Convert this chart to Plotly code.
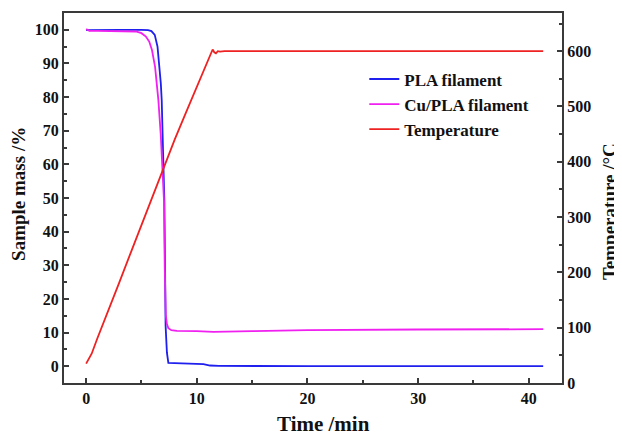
import plotly.graph_objects as go

# Temperature program
temp_time = [0, 0.5, 1, 2, 3, 4, 5, 6, 7, 7.6, 8, 9, 10, 10.3, 11, 11.43, 11.58, 11.73, 11.9, 12.1, 12.5, 15, 20, 30, 41.3]
temp_vals = [35, 53, 80, 130, 182, 234, 286, 338, 391, 421, 440, 488, 535, 548, 582, 603, 598, 596, 600, 599, 600, 600, 600, 600, 600]

# PLA filament mass
pla_time = [0, 1, 3, 5, 5.6, 5.9, 6.2, 6.45, 6.6, 6.75, 6.83, 6.91, 7.0, 7.07, 7.13, 7.18, 7.3, 7.43, 8, 9, 10, 10.6, 11.2, 12, 20, 30, 41.3]
pla_mass = [99.9, 100, 100, 100, 99.9, 99.6, 98.5, 95, 90, 84, 79, 69, 59, 49, 30, 12, 4, 1.0, 0.9, 0.8, 0.7, 0.6, 0.2, 0.1, 0.0, 0.0, 0.0]

# Cu/PLA filament mass
cu_time = [0, 0.3, 1, 3, 4.5, 5.0, 5.4, 5.7, 5.95, 6.23, 6.53, 6.74, 6.92, 7.04, 7.1, 7.2, 7.3, 7.43, 7.7, 8.2, 10, 11.5, 15, 20, 30, 41.3]
cu_mass = [100.2, 99.7, 99.7, 99.7, 99.5, 99.0, 98.0, 96.5, 94, 89, 79, 69, 59, 49, 30, 15, 12.5, 11.3, 10.7, 10.5, 10.4, 10.2, 10.4, 10.7, 10.9, 11.0]

mass_ticks = [0, 10, 20, 30, 40, 50, 60, 70, 80, 90, 100]
temp_ticks = [0, 100, 200, 300, 400, 500, 600]
time_ticks = [0, 10, 20, 30, 40]

x_title = "Time /min"
y_title = "Sample mass /%"
y2_title = "Temperature /°C"

FONT = "Liberation Serif"
AXC = "#3a3a3a"

fig = go.Figure()
fig.add_trace(go.Scatter(x=pla_time, y=pla_mass, mode="lines", name="PLA filament",
                         line=dict(color="#1f1fee", width=1.8)))
fig.add_trace(go.Scatter(x=cu_time, y=cu_mass, mode="lines", name="Cu/PLA filament",
                         line=dict(color="#f020f0", width=1.8)))
fig.add_trace(go.Scatter(x=temp_time, y=temp_vals, mode="lines", name="Temperature",
                         line=dict(color="#ee2222", width=1.8), yaxis="y2"))

tickfont = dict(family=FONT, size=16, color="#111", weight="bold")

def tfont(size):
    return dict(family=FONT, size=size, color="#111", weight="bold")

# the page places the figure 8px from its top-left corner
fig.update_layout(
    width=614, height=427,
    margin=dict(l=56, r=60, t=5, b=52, autoexpand=False),
    paper_bgcolor="white", plot_bgcolor="white",
    showlegend=True,
    legend=dict(x=0.603, y=0.869, xanchor="left", yanchor="top",
                bgcolor="rgba(0,0,0,0)", font=tfont(17), tracegroupgap=0),
    xaxis=dict(range=[-2, 43], tickvals=time_ticks, ticks="inside", ticklen=5, tickwidth=1.5,
               tickcolor=AXC, showline=True, linecolor=AXC, linewidth=2, mirror=True,
               showgrid=False, zeroline=False, tickfont=tickfont,
               minor=dict(dtick=5, ticks="inside", ticklen=3, tickcolor=AXC, showgrid=False)),
    yaxis=dict(range=[-5, 105], tickvals=mass_ticks, ticks="inside", ticklen=5, tickwidth=1.5,
               tickcolor=AXC, showline=True, linecolor=AXC, linewidth=2,
               showgrid=False, zeroline=False, tickfont=tickfont,
               minor=dict(dtick=5, tick0=0, ticks="inside", ticklen=3, tickcolor=AXC, showgrid=False)),
    yaxis2=dict(range=[0, 669], tickvals=temp_ticks, ticks="inside", ticklen=5, tickwidth=1.5,
                tickcolor=AXC, showline=True, linecolor=AXC, linewidth=2,
                overlaying="y", side="right", anchor="x",
                showgrid=False, zeroline=False, tickfont=tickfont,
                minor=dict(dtick=50, tick0=0, ticks="inside", ticklen=3, tickcolor=AXC, showgrid=False)),
    annotations=[
        dict(text=x_title, xref="paper", yref="paper", x=0.521, y=-0.111,
             xanchor="center", yanchor="middle", showarrow=False, font=tfont(21)),
        dict(text=y_title, xref="paper", yref="paper", x=-0.0904, y=0.511, textangle=-90,
             xanchor="center", yanchor="middle", showarrow=False, font=tfont(19)),
        dict(text=y2_title, xref="paper", yref="paper", x=1.0944, y=0.462, textangle=-90,
             xanchor="center", yanchor="middle", showarrow=False, font=tfont(19)),
    ],
)

fig.write_html("out.html")
